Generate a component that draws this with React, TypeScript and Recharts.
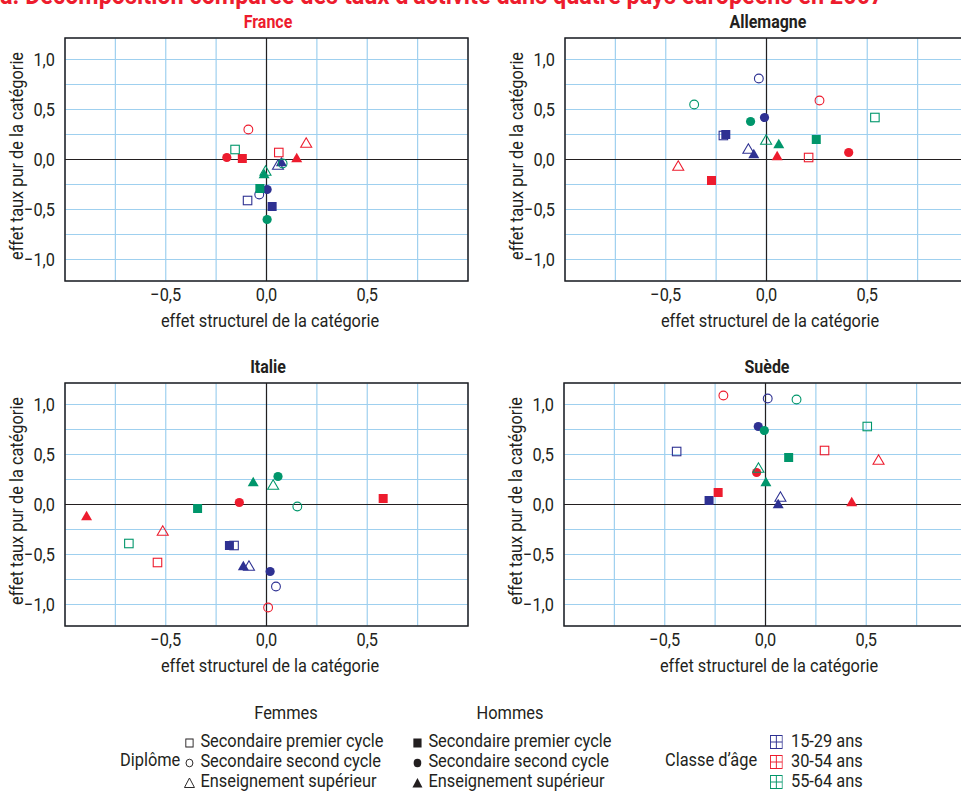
import React from 'react';
import { ScatterChart, Scatter, XAxis, YAxis, CartesianGrid, ReferenceLine, ReferenceArea } from 'recharts';

const FONT = 'Roboto, "Liberation Sans", sans-serif';
const TXT = '#231f20';
const SX = 0.86;

const AGES = ['15-29 ans', '30-54 ans', '55-64 ans'];
const AGE_COLORS = ['#2e3192', '#ed1c2e', '#00966b'];
const SEXES = ['Femmes', 'Hommes'];
const DIPLOMAS = ['Secondaire premier cycle', 'Secondaire second cycle', 'Enseignement supérieur'];
const MAIN_TITLE = 'a. Décomposition comparée des taux d’activité dans quatre pays européens en 2007';
const X_LABEL = 'effet structurel de la catégorie';
const Y_LABEL = 'effet taux pur de la catégorie';

const X_TICKS = [-1, -0.75, -0.5, -0.25, 0, 0.25, 0.5, 0.75, 1];
const Y_TICKS = [-1, -0.75, -0.5, -0.25, 0, 0.25, 0.5, 0.75, 1];
const X_LABELED = [-0.5, 0, 0.5];
const Y_LABELED = [-1, -0.5, 0, 0.5, 1];

// order: age (15-29, 30-54, 55-64) x sex (F, H) x diploma (sec1, sec2, sup)
const franceX = [-0.094, -0.036, 0.057, 0.028, 0.003, 0.074, 0.061, -0.09, 0.197, -0.12, -0.197, 0.15, -0.156, 0.08, -0.005, -0.033, 0.003, -0.012];
const franceY = [-0.41, -0.35, -0.05, -0.47, -0.3, -0.02, 0.07, 0.3, 0.17, 0.01, 0.02, 0.02, 0.1, -0.04, -0.11, -0.29, -0.6, -0.14];
const allemagneX = [-0.214, -0.038, -0.09, -0.202, -0.01, -0.063, 0.209, 0.263, -0.438, -0.273, 0.408, 0.053, 0.538, -0.359, -0.002, 0.247, -0.079, 0.061];
const allemagneY = [0.24, 0.81, 0.11, 0.25, 0.42, 0.06, 0.02, 0.59, -0.06, -0.21, 0.07, 0.04, 0.42, 0.55, 0.2, 0.2, 0.38, 0.16];
const italieX = [-0.161, 0.047, -0.087, -0.184, 0.018, -0.115, -0.541, 0.008, -0.515, 0.579, -0.135, -0.893, -0.683, 0.153, 0.033, -0.342, 0.057, -0.066];
const italieY = [-0.41, -0.82, -0.61, -0.41, -0.67, -0.61, -0.58, -1.03, -0.26, 0.06, 0.02, -0.11, -0.39, -0.02, 0.2, -0.04, 0.28, 0.23];
const suedeX = [-0.441, 0.011, 0.074, -0.28, -0.036, 0.063, 0.293, -0.209, 0.561, -0.235, -0.044, 0.428, 0.505, 0.154, -0.035, 0.115, -0.006, 0.002];
const suedeY = [0.53, 1.06, 0.08, 0.04, 0.78, 0.01, 0.54, 1.09, 0.45, 0.12, 0.32, 0.03, 0.78, 1.05, 0.37, 0.47, 0.74, 0.23];

const fmt = (v: number) => {
  const s = Math.abs(v).toFixed(1).replace('.', ',');
  return v < 0 ? '\u2212' + s : s;
};

const buildData = (xs: number[], ys: number[]) =>
  xs.map((x, i) => ({
    x,
    y: ys[i],
    age: Math.floor(i / 6),
    sex: Math.floor((i % 6) / 3),
    dip: i % 3,
  }));

const Marker = (props: any) => {
  const { cx, cy, payload } = props;
  if (cx == null || cy == null) return null;
  const color = AGE_COLORS[payload.age];
  const filled = payload.sex === 1;
  const fill = filled ? color : 'none';
  const sw = filled ? 0 : 1.1;
  if (payload.dip === 0) {
    const s = filled ? 9 : 8.5;
    return <rect x={cx - s / 2} y={cy - s / 2} width={s} height={s} fill={fill} stroke={color} strokeWidth={sw} />;
  }
  if (payload.dip === 1) {
    return <circle cx={cx} cy={cy} r={filled ? 4.6 : 4.4} fill={fill} stroke={color} strokeWidth={sw} />;
  }
  const w = 11;
  const h = 9.5;
  const pts = `${cx - w / 2},${cy + h / 2} ${cx + w / 2},${cy + h / 2} ${cx},${cy - h / 2}`;
  return <polygon points={pts} fill={fill} stroke={color} strokeWidth={sw} />;
};

const XTick = (props: any) => {
  const { x, y, payload } = props;
  if (!X_LABELED.includes(payload.value)) return null;
  return (
    <text transform={`translate(${x},${y + 6}) scale(${SX},1)`} textAnchor="middle" dominantBaseline="central" fill={TXT} fontSize={19} fontFamily={FONT}>{fmt(payload.value)}</text>
  );
};

const YTick = (props: any) => {
  const { x, y, payload } = props;
  if (!Y_LABELED.includes(payload.value)) return null;
  return (
    <text transform={`translate(${x - 2},${y}) scale(${SX},1)`} textAnchor="end" dominantBaseline="central" fill={TXT} fontSize={19} fontFamily={FONT}>{fmt(payload.value)}</text>
  );
};

const PW = 403;
const PH = 243;
const YW = 60;
const XH = 50;
const MT = 5;

const Txt = ({ x, y, children, anchor, size, bold, color, rotate, scale }: any) => {
  const s = scale ?? SX;
  const centered = anchor === 'middle';
  const tr = centered
    ? `translate(-50%,-50%)${rotate ? ' rotate(-90deg)' : ''} scaleX(${s})`
    : `translate(0,-50%) scaleX(${s})`;
  return (
    <div style={{ position: 'absolute', left: x, top: y, transform: tr, transformOrigin: centered ? 'center center' : 'left center', fontFamily: FONT, fontSize: size ?? 19, fontWeight: bold ? 'bold' : 'normal', color: color ?? TXT, whiteSpace: 'nowrap', lineHeight: 1 }}>{children}</div>
  );
};

const Panel = ({ title, titleColor, xs, ys, left, top }: any) => {
  const data = buildData(xs, ys);
  return (
    <>
      <Txt x={left + PW / 2 + 1} y={top - 17} anchor="middle" size={19} bold color={titleColor} scale={0.84}>{title}</Txt>
      <div style={{ position: 'absolute', left: left - YW, top: top - MT }}>
        <ScatterChart width={YW + PW + 5} height={MT + PH + XH} margin={{ top: MT, right: 5, bottom: 0, left: 0 }}>
          <CartesianGrid stroke="#9fd0ef" strokeWidth={1.2} />
          <XAxis type="number" dataKey="x" domain={[-1, 1]} ticks={X_TICKS} height={XH} axisLine={false} tickLine={false}
            tick={<XTick />} interval={0} allowDataOverflow />
          <YAxis type="number" dataKey="y" domain={[-1.215, 1.215]} ticks={Y_TICKS} width={YW} axisLine={false} tickLine={false}
            tick={<YTick />} interval={0} allowDataOverflow />
          <ReferenceLine x={0} stroke="#231f20" strokeWidth={1.2} />
          <ReferenceLine y={0} stroke="#231f20" strokeWidth={1.2} />
          <ReferenceArea x1={-1} x2={1} y1={-1.215} y2={1.215} fill="none" stroke="#231f20" strokeWidth={1.5} ifOverflow="visible" />
          <Scatter data={data} shape={Marker} isAnimationActive={false} />
        </ScatterChart>
      </div>
      <Txt x={left + PW / 2 + 3} y={top + PH + 39} anchor="middle" size={19}>{X_LABEL}</Txt>
      <Txt x={left - 49} y={top + PH / 2 - 4} anchor="middle" size={19} rotate>{Y_LABEL}</Txt>
    </>
  );
};

const Sym = ({ kind, filled }: any) => {
  const c = TXT;
  const f = filled ? c : 'none';
  const sw = filled ? 0 : 1;
  return (
    <svg width={12} height={12} style={{ marginRight: 6, verticalAlign: 'middle' }}>
      {kind === 0 && <rect x={filled ? 1.5 : 2} y={filled ? 2.5 : 3} width={filled ? 9 : 8} height={filled ? 9 : 8} fill={f} stroke={c} strokeWidth={sw} />}
      {kind === 1 && <circle cx={6} cy={7} r={filled ? 4.2 : 3.8} fill={f} stroke={c} strokeWidth={sw} />}
      {kind === 2 && <polygon points="0.5,11.5 11.5,11.5 6,2" fill={f} stroke={c} strokeWidth={sw} />}
    </svg>
  );
};

const AgeSym = ({ color }: any) => (
  <svg width={14} height={14} style={{ marginRight: 9, verticalAlign: 'middle' }}>
    <rect x={0.5} y={0.5} width={13} height={13} fill="none" stroke={color} strokeWidth={1} />
    <line x1={7} y1={0.5} x2={7} y2={13.5} stroke={color} strokeWidth={1} />
    <line x1={0.5} y1={7} x2={13.5} y2={7} stroke={color} strokeWidth={1} />
  </svg>
);

export default function App() {
  const rows = [741, 761, 781];
  const LS = 18;
  const LX = 0.91;
  return (
    <div style={{ position: 'absolute', left: 0, top: 0, width: 961, height: 792, overflow: 'hidden', background: '#fff' }}>
      <div style={{ position: 'absolute', left: 0, top: -20, transform: 'scaleX(0.9)', transformOrigin: 'left top', fontFamily: FONT, fontWeight: 'bold', fontSize: 26, color: '#ed1c2e', whiteSpace: 'nowrap' }}>{MAIN_TITLE}</div>
      <Panel title="France" titleColor="#ed1c2e" xs={franceX} ys={franceY} left={65} top={38} />
      <Panel title="Allemagne" titleColor={TXT} xs={allemagneX} ys={allemagneY} left={565} top={38} />
      <Panel title="Italie" titleColor={TXT} xs={italieX} ys={italieY} left={65} top={383} />
      <Panel title="Suède" titleColor={TXT} xs={suedeX} ys={suedeY} left={564} top={383} />

      <Txt x={286} y={713} anchor="middle" size={LS} scale={LX}>{SEXES[0]}</Txt>
      <Txt x={510} y={713} anchor="middle" size={LS} scale={LX}>{SEXES[1]}</Txt>
      <Txt x={120} y={760} size={LS} scale={LX}>Diplôme</Txt>
      {DIPLOMAS.map((d, i) => (
        <Txt key={'f' + i} x={184} y={rows[i]} size={LS} scale={LX}><Sym kind={i} filled={false} />{d}</Txt>
      ))}
      {DIPLOMAS.map((d, i) => (
        <Txt key={'h' + i} x={412} y={rows[i]} size={LS} scale={LX}><Sym kind={i} filled={true} />{d}</Txt>
      ))}
      <Txt x={665} y={760} size={LS} scale={LX}>Classe d’âge</Txt>
      {AGES.map((a, i) => (
        <Txt key={'a' + i} x={770} y={rows[i]} size={LS} scale={LX}><AgeSym color={AGE_COLORS[i]} />{a}</Txt>
      ))}
    </div>
  );
}
